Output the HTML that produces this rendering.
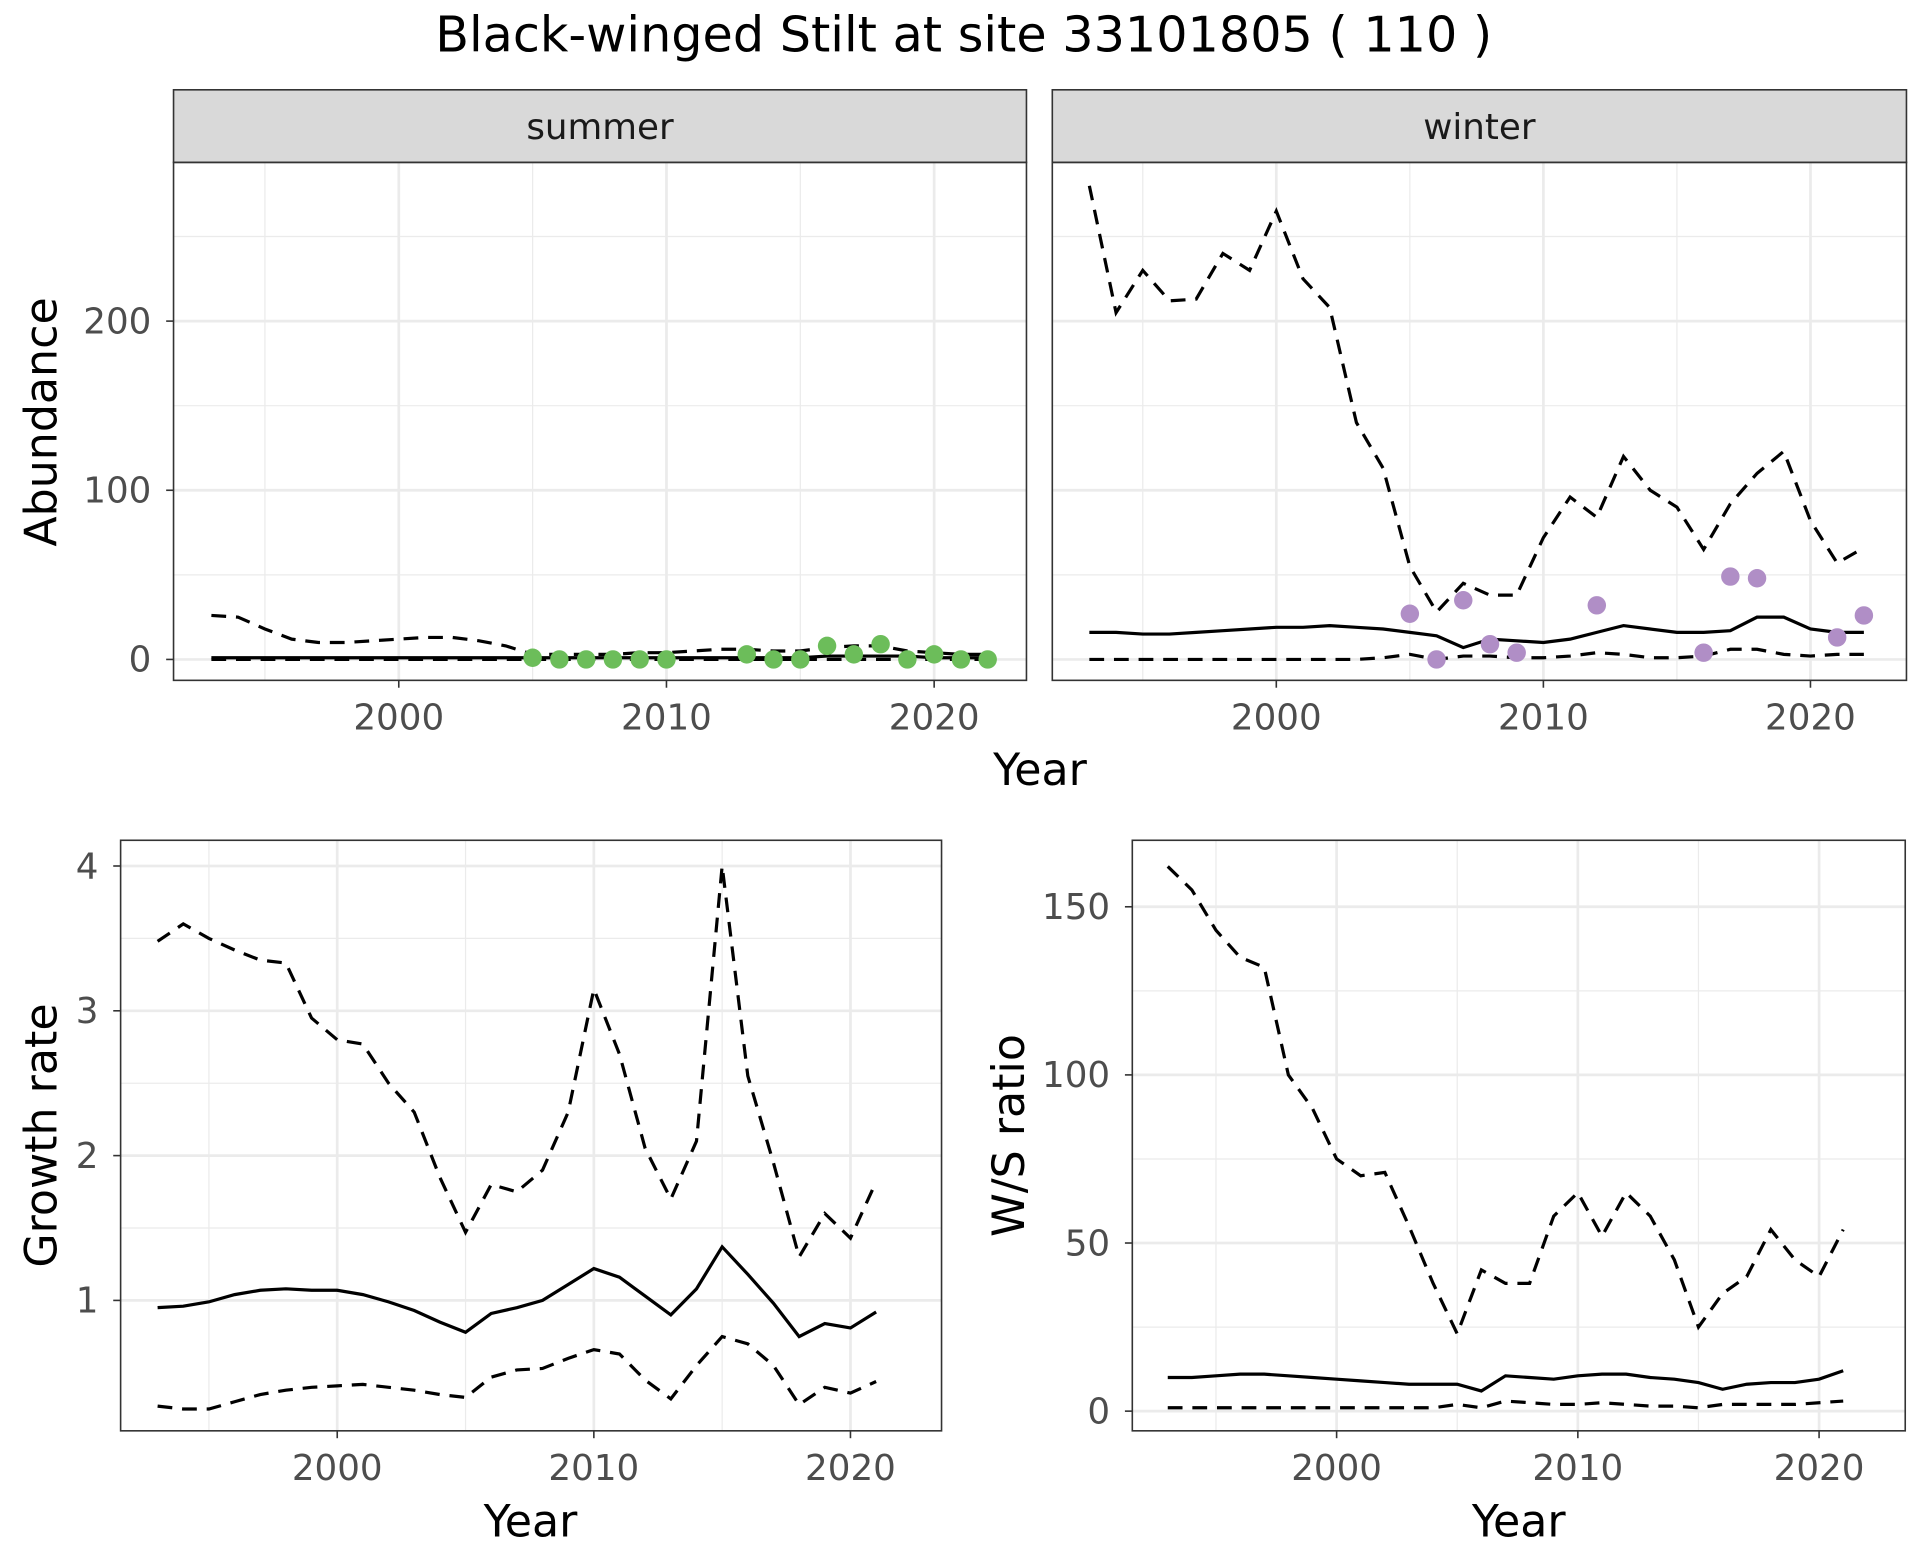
<!DOCTYPE html>
<html><head><meta charset="utf-8"><style>html,body{margin:0;padding:0;background:#fff}svg{display:block}text{font-family:"DejaVu Sans","Liberation Sans",sans-serif}</style></head>
<body>
<svg id="s" width="1920" height="1560" viewBox="0 0 1560 1268" preserveAspectRatio="none" xmlns="http://www.w3.org/2000/svg"></svg>
<script>
const S=document.getElementById('s');let h='';
h+='<rect width="1560" height="1268" fill="#fff"/>';
h+='<text x="783" y="42" font-size="40" text-anchor="middle" fill="#000">Black-winged Stilt at site 33101805 ( 110 )</text>';
function yrs(a,n){return Array.from({length:n},(_,i)=>a+i);}
function panel(p){
 const {x0,x1,y0,y1,fx,fy,xt,yt,xm,ym}=p;
 let o='';
 ym.forEach(v=>{const y=fy(v);o+=`<line x1="${x0}" x2="${x1}" y1="${y}" y2="${y}" stroke="#ebebeb" stroke-width="1"/>`});
 xm.forEach(v=>{const x=fx(v);o+=`<line y1="${y0}" y2="${y1}" x1="${x}" x2="${x}" stroke="#ebebeb" stroke-width="1"/>`});
 yt.forEach(v=>{const y=fy(v);o+=`<line x1="${x0}" x2="${x1}" y1="${y}" y2="${y}" stroke="#ebebeb" stroke-width="2.2"/>`});
 xt.forEach(v=>{const x=fx(v);o+=`<line y1="${y0}" y2="${y1}" x1="${x}" x2="${x}" stroke="#ebebeb" stroke-width="2.2"/>`});
 return o;
}
function border(x0,x1,y0,y1){return `<rect x="${x0}" y="${y0}" width="${x1-x0}" height="${y1-y0}" fill="none" stroke="#333" stroke-width="1.3"/>`;}
function line(xs,ys,fx,fy,dash){return `<polyline fill="none" stroke="#000" stroke-width="2.6" ${dash?'stroke-dasharray="12,8"':''} points="${xs.map((x,i)=>fx(x)+','+fy(ys[i])).join(' ')}"/>`;}
function xticks(xt,fx,y1){let o='';xt.forEach(v=>{const x=fx(v);o+=`<line x1="${x}" x2="${x}" y1="${y1}" y2="${y1+6}" stroke="#333" stroke-width="1.3"/><text x="${x}" y="${y1+40}" font-size="29" fill="#4d4d4d" text-anchor="middle">${v}</text>`});return o;}
function yticks(yt,fy,x0){let o='';yt.forEach(v=>{const y=fy(v);o+=`<line x1="${x0-6}" x2="${x0}" y1="${y}" y2="${y}" stroke="#333" stroke-width="1.3"/><text x="${x0-18}" y="${y+10}" font-size="29" fill="#4d4d4d" text-anchor="end">${v}</text>`});return o;}
const Y30=yrs(1993,30),Y29=yrs(1993,29);
const fyA=v=>536-v*1.375;
const fxS=v=>324+(v-2000)*21.75, fxW=v=>1037+(v-2000)*21.7;
const ymA=[50,150,250],ytA=[0,100,200];
[[141,834,fxS,'summer'],[855,1549,fxW,'winter']].forEach(([x0,x1,fx,lab])=>{
 h+=panel({x0,x1,y0:132,y1:553,fx,fy:fyA,xt:[2000,2010,2020],yt:ytA,xm:[1995,2005,2015],ym:ymA});
 h+=`<rect x="${x0}" y="73" width="${x1-x0}" height="59" fill="#d9d9d9" stroke="#333" stroke-width="1.3"/><text x="${(x0+x1)/2}" y="113" font-size="29" fill="#1a1a1a" text-anchor="middle">${lab}</text>`;
});
const sU=[26,25,18,12,10,10,11,12,13,13,11,8,3,3,3,3,4,4,5,6,6,5,5,7,8,8,5,4,3,3];
const sM=[1,1,1,1,1,1,1,1,1,1,1,1,1,1,1,1,1,1,1,1,1,1,1,2,2,2,2,1,1,1];
const sL=Y30.map(()=>0);
h+=line(Y30,sU,fxS,fyA,1)+line(Y30,sM,fxS,fyA,0)+line(Y30,sL,fxS,fyA,1);
[[2005,1],[2006,0],[2007,0],[2008,0],[2009,0],[2010,0],[2013,3],[2014,0],[2015,0],[2016,8],[2017,3],[2018,9],[2019,0],[2020,3],[2021,0],[2022,0]].forEach(([a,b])=>h+=`<circle cx="${fxS(a)}" cy="${fyA(b)}" r="7.5" fill="#6cbd5a"/>`);
const wU=[280,205,230,212,213,240,230,265,225,208,140,113,55,28,45,38,38,72,96,84,120,100,90,65,92,110,123,82,57,66];
const wM=[16,16,15,15,16,17,18,19,19,20,19,18,16,14,7,12,11,10,12,16,20,18,16,16,17,25,25,18,16,16];
const wL=[0,0,0,0,0,0,0,0,0,0,0,1,3,0,2,2,1,1,2,4,3,1,1,2,6,6,3,2,3,3];
h+=line(Y30,wU,fxW,fyA,1)+line(Y30,wM,fxW,fyA,0)+line(Y30,wL,fxW,fyA,1);
[[2005,27],[2006,0],[2007,35],[2008,9],[2009,4],[2012,32],[2016,4],[2017,49],[2018,48],[2021,13],[2022,26]].forEach(([a,b])=>h+=`<circle cx="${fxW(a)}" cy="${fyA(b)}" r="7.5" fill="#b08ec6"/>`);
h+=border(141,834,132,553)+border(855,1549,132,553);
h+=xticks([2000,2010,2020],fxS,553)+xticks([2000,2010,2020],fxW,553)+yticks(ytA,fyA,141);
h+='<text x="845" y="638" font-size="36" text-anchor="middle">Year</text>';
h+='<text transform="translate(46,343) rotate(-90)" font-size="36" text-anchor="middle">Abundance</text>';
const fxG=v=>274+(v-2000)*20.85, fyG=v=>1057-(v-1)*117.7;
h+=panel({x0:98,x1:765,y0:683,y1:1163,fx:fxG,fy:fyG,xt:[2000,2010,2020],yt:[1,2,3,4],xm:[1995,2005,2015],ym:[1.5,2.5,3.5]});
const gU=[3.48,3.6,3.5,3.42,3.35,3.33,2.95,2.8,2.77,2.5,2.3,1.85,1.47,1.8,1.75,1.9,2.3,3.15,2.7,2.05,1.7,2.1,4.0,2.55,1.95,1.3,1.6,1.43,1.82];
const gM=[.95,.96,.99,1.04,1.07,1.08,1.07,1.07,1.04,.99,.93,.85,.78,.91,.95,1.00,1.11,1.22,1.16,1.03,.9,1.08,1.37,1.18,.98,.75,.84,.81,.92];
const gL=[.27,.25,.25,.3,.35,.38,.4,.41,.42,.4,.38,.35,.33,.47,.52,.53,.6,.66,.63,.45,.32,.55,.75,.7,.55,.28,.4,.36,.44];
h+=line(Y29,gU,fxG,fyG,1)+line(Y29,gM,fxG,fyG,0)+line(Y29,gL,fxG,fyG,1);
h+=border(98,765,683,1163)+xticks([2000,2010,2020],fxG,1163)+yticks([1,2,3,4],fyG,98);
h+='<text x="431" y="1249" font-size="36" text-anchor="middle">Year</text>';
h+='<text transform="translate(46,923) rotate(-90)" font-size="36" text-anchor="middle">Growth rate</text>';
const fxR=v=>1086+(v-2000)*19.6, fyR=v=>1147-v*2.733;
h+=panel({x0:920,x1:1548,y0:683,y1:1163,fx:fxR,fy:fyR,xt:[2000,2010,2020],yt:[0,50,100,150],xm:[1995,2005,2015],ym:[25,75,125]});
const rU=[162,155,143,135,132,100,90,75,70,71,55,38,23,42,38,38,58,65,52,65,58,45,25,35,40,54,45,40,54];
const rM=[10,10,10.5,11,11,10.5,10,9.5,9,8.5,8,8,8,6,10.5,10,9.5,10.5,11,11,10,9.5,8.5,6.5,8,8.5,8.5,9.5,12];
const rL=[1,1,1,1,1,1,1,1,1,1,1,1,2,1,3,2.5,2,2,2.5,2,1.5,1.5,1,2,2,2,2,2.5,3];
h+=line(Y29,rU,fxR,fyR,1)+line(Y29,rM,fxR,fyR,0)+line(Y29,rL,fxR,fyR,1);
h+=border(920,1548,683,1163)+xticks([2000,2010,2020],fxR,1163)+yticks([0,50,100,150],fyR,920);
h+='<text x="1234" y="1249" font-size="36" text-anchor="middle">Year</text>';
h+='<text transform="translate(832,923) rotate(-90)" font-size="36" text-anchor="middle">W/S ratio</text>';
S.innerHTML=h;
</script>
</body></html>
